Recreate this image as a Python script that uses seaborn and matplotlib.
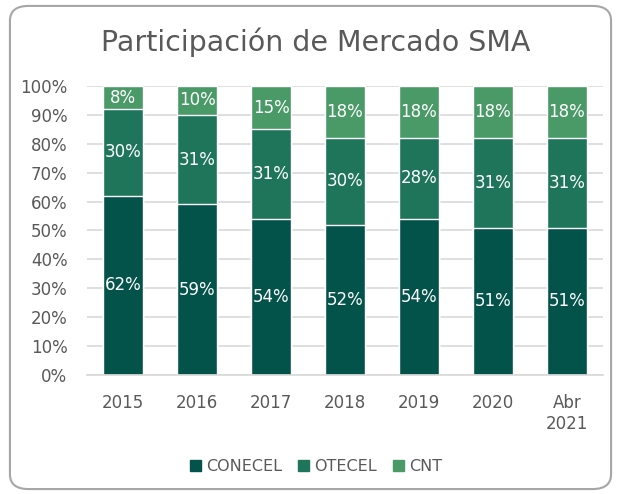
import matplotlib.pyplot as plt
import seaborn as sns
import pandas as pd
from matplotlib.patches import FancyBboxPatch

# market share (%) by operator
years = ["2015", "2016", "2017", "2018", "2019", "2020", "Abr\n2021"]
conecel = [62, 59, 54, 52, 54, 51, 51]
otecel = [30, 31, 31, 30, 28, 31, 31]
cnt = [8, 10, 15, 18, 18, 18, 18]

colors = {"CONECEL": "#03534A", "OTECEL": "#1F755A", "CNT": "#4A9A68"}
text_gray = "#595959"

sns.set_theme(style="white")
plt.rcParams["font.family"] = ["DejaVu Sans"]

df = pd.DataFrame({"year": years, "CONECEL": conecel, "OTECEL": otecel, "CNT": cnt})
df["top2"] = df["CONECEL"] + df["OTECEL"]
df["total"] = df["top2"] + df["CNT"]

fig = plt.figure(figsize=(6.21, 4.94), dpi=100)
ax = fig.add_axes([0.140, 0.241, 0.831, 0.585])

# stacked bars drawn as overlapping cumulative layers
bw = 0.54
sns.barplot(data=df, x="year", y="total", color=colors["CNT"], saturation=1, width=bw, ax=ax)
sns.barplot(data=df, x="year", y="top2", color=colors["OTECEL"], saturation=1, width=bw, ax=ax)
sns.barplot(data=df, x="year", y="CONECEL", color=colors["CONECEL"], saturation=1, width=bw, ax=ax)

for i in range(len(years)):
    b = 0
    for name in ["CONECEL", "OTECEL", "CNT"]:
        v = df[name][i]
        ax.text(i, b + v / 2, f"{v}%", ha="center", va="center", color="white", fontsize=12)
        b += v

ax.set_ylim(0, 100)
ax.set_xlim(-0.49, 6.49)
ax.set_yticks(range(0, 101, 10))
ax.set_yticklabels([f"{t}%" for t in range(0, 101, 10)])
ax.yaxis.grid(True, color="#d9d9d9", linewidth=1.2)
ax.set_axisbelow(True)
ax.set_xlabel("")
ax.set_ylabel("")
ax.tick_params(axis="both", length=0, colors=text_gray, labelsize=12)
ax.tick_params(axis="x", pad=14)
ax.tick_params(axis="y", pad=14)
for s in ax.spines.values():
    s.set_visible(False)
ax.spines["bottom"].set_visible(True)
ax.spines["bottom"].set_color("#d9d9d9")

fig.text(0.509, 0.915, "Participación de Mercado SMA", ha="center", va="center",
         fontsize=20.5, color=text_gray)

handles = [plt.Rectangle((0, 0), 1, 1, color=colors[k]) for k in ["CONECEL", "OTECEL", "CNT"]]
fig.legend(handles, ["CONECEL", "OTECEL", "CNT"], loc="center", bbox_to_anchor=(0.509, 0.055),
           ncol=3, frameon=False, fontsize=11.5, handlelength=0.7, handleheight=0.7,
           handletextpad=0.3, columnspacing=1.0, labelcolor=text_gray)

border = FancyBboxPatch((0.016, 0.01), 0.968, 0.978, boxstyle="round,pad=0,rounding_size=0.03",
                        transform=fig.transFigure, fill=False, edgecolor="#a6a6a6", linewidth=1.5)
fig.patches.append(border)

fig.savefig("out.png", dpi=100)
